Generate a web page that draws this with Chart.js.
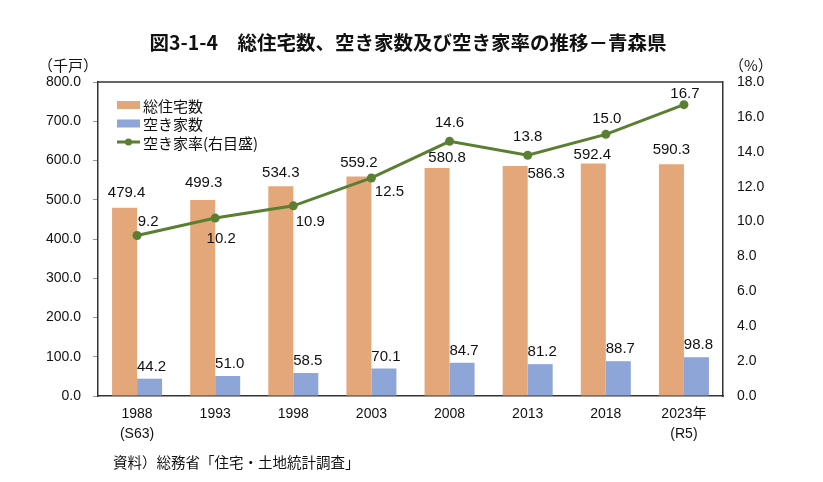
<!DOCTYPE html>
<html>
<head>
<meta charset="utf-8">
<script src="https://cdn.jsdelivr.net/npm/chart.js@4"></script>
<style>
  html, body { margin: 0; padding: 0; background: #fff; }
  #wrap { width: 823px; height: 482px; }
</style>
</head>
<body>
<div id="wrap"><canvas id="chart" width="823" height="482"></canvas></div>
<script>
// ========== Data ==========
const years = [['1988', '(S63)'], '1993', '1998', '2003', '2008', '2013', '2018', ['2023年', '(R5)']];
const totalHouses = [479.4, 499.3, 534.3, 559.2, 580.8, 586.3, 592.4, 590.3];
const vacantHouses = [44.2, 51.0, 58.5, 70.1, 84.7, 81.2, 88.7, 98.8];
const vacancyRate = [9.2, 10.2, 10.9, 12.5, 14.6, 13.8, 15.0, 16.7];

const title = '図3-1-4\u3000総住宅数、空き家数及び空き家率の推移－青森県';
const source = '資料）総務省「住宅・土地統計調査」';

// ========== Styles ==========
const ORANGE = '#E4A779';
const BLUE = '#8EA5D8';
const GREEN = '#5B7F32';
const JP = '"Noto Sans CJK JP", sans-serif';
const NUM = '"Liberation Sans", Arial, "Noto Sans CJK JP", sans-serif';

// label offsets [dx, dy] from the mark, per point
const totalOffsets = [[2, -15], [1, -17], [0, -13], [0, -14], [10, -10], [31, 8], [-1, -9], [0, -14]];
const rateOffsets = [[11, -14], [6, 21], [17, 16], [18, 14], [0, -18], [0, -18], [1, -15], [1, -11]];

// ========== Plugins ==========
const decorations = {
  id: 'decorations',
  afterDatasetsDraw(chart) {
    const { ctx, chartArea: a } = chart;
    ctx.save();
    // top frame line
    ctx.strokeStyle = '#333';
    ctx.lineWidth = 1.5;
    ctx.beginPath();
    ctx.moveTo(a.left, a.top);
    ctx.lineTo(a.right, a.top);
    ctx.stroke();

    // data labels
    ctx.fillStyle = '#111';
    ctx.font = '15px ' + NUM;
    ctx.textAlign = 'center';
    ctx.textBaseline = 'middle';
    chart.getDatasetMeta(0).data.forEach((el, i) => {
      const o = totalOffsets[i];
      ctx.fillText(totalHouses[i].toFixed(1), el.x + o[0], el.y + o[1]);
    });
    chart.getDatasetMeta(1).data.forEach((el, i) => {
      ctx.fillText(vacantHouses[i].toFixed(1), el.x + 2, el.y - 12);
    });
    chart.getDatasetMeta(2).data.forEach((el, i) => {
      const o = rateOffsets[i];
      ctx.fillText(vacancyRate[i].toFixed(1), el.x + o[0], el.y + o[1]);
    });

    // category labels
    const xs = chart.scales.x;
    ctx.font = '14px ' + NUM;
    years.forEach((lab, i) => {
      const lines = Array.isArray(lab) ? lab : [lab];
      const x = xs.getPixelForTick(i);
      lines.forEach((t, j) => ctx.fillText(t, x, a.bottom + 18 + j * 20.5));
    });

    // legend
    const items = chart.data.datasets;
    ctx.textAlign = 'left';
    ctx.font = '15px ' + JP;
    items.forEach((ds, i) => {
      const y = 105 + i * 18.5;
      if (ds.type === 'line') {
        ctx.strokeStyle = GREEN;
        ctx.lineWidth = 3;
        ctx.beginPath();
        ctx.moveTo(117, y);
        ctx.lineTo(140, y);
        ctx.stroke();
        ctx.fillStyle = GREEN;
        ctx.beginPath();
        ctx.arc(128.5, y, 3.5, 0, Math.PI * 2);
        ctx.fill();
      } else {
        ctx.fillStyle = ds.backgroundColor;
        ctx.fillRect(117, y - 4, 23, 8);
      }
      ctx.fillStyle = '#111';
      ctx.fillText(ds.label, 143, y + 1);
    });

    // titles and notes
    ctx.fillStyle = '#111';
    ctx.font = 'bold 19.5px ' + JP;
    ctx.textAlign = 'center';
    ctx.fillText(title, 408, 43);
    ctx.font = '15px ' + JP;
    ctx.textAlign = 'left';
    ctx.fillText('（千戸）', 38, 65);
    ctx.fillText('（%）', 729, 65);
    ctx.font = '14.5px ' + JP;
    ctx.fillText(source, 113, 462);
    ctx.restore();
  }
};

// ========== Chart ==========
new Chart(document.getElementById('chart'), {
  type: 'bar',
  data: {
    labels: years,
    datasets: [
      { label: '総住宅数', data: totalHouses, backgroundColor: ORANGE, yAxisID: 'y', order: 2 },
      { label: '空き家数', data: vacantHouses, backgroundColor: BLUE, yAxisID: 'y', order: 2 },
      {
        type: 'line', label: '空き家率(右目盛)', data: vacancyRate, yAxisID: 'y1', order: 1,
        borderColor: GREEN, backgroundColor: GREEN, borderWidth: 3,
        pointRadius: 4.5, pointBackgroundColor: GREEN, pointBorderWidth: 0, tension: 0
      }
    ]
  },
  options: {
    responsive: false,
    animation: false,
    categoryPercentage: 0.64,
    barPercentage: 1.0,
    layout: { padding: { top: 82, left: 0, right: 0, bottom: 0 } },
    plugins: { legend: { display: false }, tooltip: { enabled: false } },
    scales: {
      x: {
        grid: { display: false, drawTicks: false },
        border: { display: true, color: '#333', width: 1.5 },
        ticks: { display: false },
        afterFit(s) { s.height = 86; }
      },
      y: {
        position: 'left',
        min: 0, max: 800,
        grid: { drawOnChartArea: false, drawTicks: true, tickLength: 5, color: '#999' },
        border: { display: true, color: '#333', width: 1.5 },
        ticks: { stepSize: 100, color: '#111', padding: 12, font: { family: NUM, size: 14 }, callback: v => v.toFixed(1) },
        afterFit(s) { s.width = 98; }
      },
      y1: {
        position: 'right',
        min: 0, max: 18,
        grid: { display: false, drawTicks: false },
        border: { display: true, color: '#333', width: 1.5 },
        ticks: { stepSize: 2, color: '#111', padding: 14, font: { family: NUM, size: 14 }, callback: v => v.toFixed(1) },
        afterFit(s) { s.width = 100; }
      }
    }
  },
  plugins: [decorations]
});
</script>
</body>
</html>
